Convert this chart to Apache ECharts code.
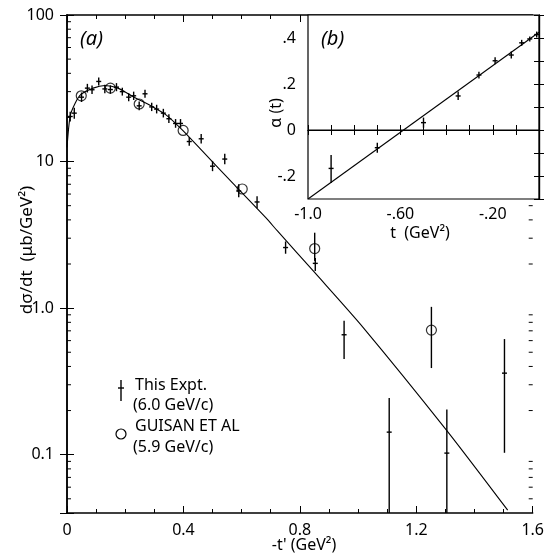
<!DOCTYPE html>
<html>
<head>
<meta charset="utf-8">
<script src="https://cdn.jsdelivr.net/npm/echarts@6/dist/echarts.min.js"></script>
<style>
  html, body { margin: 0; padding: 0; background: #fff; }
  #chart { width: 547px; height: 558px; }
</style>
</head>
<body>
<div id="chart"></div>
<script>
// --- panel (a): d sigma / dt vs -t'
const exptT  = [0.011, 0.025, 0.05, 0.07, 0.086, 0.109, 0.13, 0.149, 0.17, 0.19, 0.212, 0.229, 0.248, 0.268, 0.291, 0.308, 0.331, 0.35, 0.373, 0.39, 0.42, 0.461, 0.50, 0.542, 0.59, 0.653, 0.751, 0.853, 0.952, 1.107, 1.305, 1.503];
const exptV  = [20.3, 21.4, 27.5, 31.7, 30.9, 35.2, 31.3, 31.0, 32.2, 30.0, 27.5, 28.1, 24.0, 29.0, 23.6, 22.8, 21.4, 19.6, 18.2, 18.2, 13.7, 14.3, 9.3, 10.4, 6.3, 5.3, 2.59, 2.02, 0.658, 0.1425, 0.1025, 0.36];
const exptLo = [18.8, 19.6, 25.5, 29.6, 28.9, 33.0, 29.3, 29.0, 30.2, 28.2, 25.8, 26.3, 22.4, 27.2, 22.1, 21.3, 20.0, 18.3, 17.0, 17.0, 12.8, 13.3, 8.6, 9.6, 5.7, 4.8, 2.35, 1.79, 0.45, 0.04, 0.04, 0.103];
const exptHi = [21.9, 23.3, 29.6, 33.9, 33.0, 37.5, 33.4, 33.1, 34.3, 31.9, 29.3, 30.0, 25.7, 30.9, 25.2, 24.4, 22.9, 21.0, 19.5, 19.5, 14.7, 15.4, 10.1, 11.3, 7.0, 5.8, 2.85, 2.2, 0.82, 0.244, 0.203, 0.615];

const guisanT  = [0.049, 0.149, 0.248, 0.399, 0.602, 0.851, 1.252];
const guisanV  = [28.1, 31.7, 24.7, 16.3, 6.5, 2.55, 0.708];
const guisanLo = [28.1, 31.7, 24.7, 16.3, 6.5, 2.1, 0.39];
const guisanHi = [28.1, 31.7, 24.7, 16.3, 6.5, 3.27, 1.02];

const fitT = [0, 0.011, 0.028, 0.047, 0.09, 0.13, 0.175, 0.226, 0.282, 0.339, 0.395, 0.463, 0.576, 0.683, 0.723, 0.853, 1.017, 1.305, 1.514];
const fitV = [12.5, 20.5, 25.0, 28.6, 31.7, 33.0, 31.7, 27.8, 24.4, 20.9, 16.5, 11.9, 6.9, 4.14, 3.36, 1.73, 0.74, 0.146, 0.0418];

const logMinorTicks = [0.05, 0.06, 0.07, 0.08, 0.09, 0.2, 0.3, 0.4, 0.5, 0.6, 0.7, 0.8, 0.9, 2, 3, 4, 5, 6, 7, 8, 9, 20, 30, 40, 50, 60, 70, 80, 90];
const decadeLabels = { '2': '100', '1': '10', '0': '1.0', '-1': '0.1' };

// --- panel (b): alpha(t)
const alphaT  = [-0.90, -0.70, -0.50, -0.35, -0.26, -0.19, -0.12, -0.075, -0.04, -0.01];
const alphaV  = [-0.167, -0.077, 0.032, 0.148, 0.239, 0.301, 0.326, 0.379, 0.396, 0.415];
const alphaLo = [-0.230, -0.099, 0.010, 0.130, 0.224, 0.286, 0.311, 0.366, 0.385, 0.402];
const alphaHi = [-0.109, -0.055, 0.054, 0.167, 0.253, 0.316, 0.341, 0.392, 0.407, 0.428];
const alphaFitT = [-1.0, 0];
const alphaFitV = [-0.30, 0.425];
const zeroLineT = [-1.0, 0];
const zeroLineV = [0, 0];
const insetXLabels = { '-10': '-1.0', '-6': '-.60', '-2': '-.20' };
const insetYLabels = { '4': '.4', '2': '.2', '0': '0', '-2': '-.2' };

const FONT = 'Noto Sans';
const ink = '#000';

const zip = (...cols) => cols[0].map((_, i) => cols.map(c => c[i]));

function errorBar(withCross) {
    return function (params, api) {
        const x = api.value(0);
        const c = api.coord([x, api.value(1)]);
        const lo = api.coord([x, api.value(2)]);
        const hi = api.coord([x, api.value(3)]);
        const kids = [];
        if (Math.abs(lo[1] - hi[1]) > 0.5) {
            kids.push({ type: 'line', shape: { x1: lo[0], y1: lo[1], x2: hi[0], y2: hi[1] }, style: { stroke: ink, lineWidth: 1.4 } });
        }
        if (withCross) {
            kids.push({ type: 'line', shape: { x1: c[0] - 2.5, y1: c[1], x2: c[0] + 2.5, y2: c[1] }, style: { stroke: ink, lineWidth: 1.4 } });
        }
        return { type: 'group', children: kids };
    };
}

const chart = echarts.init(document.getElementById('chart'));

const axisText = { color: ink, fontFamily: FONT, fontSize: 16 };

const option = {
    animation: false,
    backgroundColor: '#fff',
    grid: [
        { left: 67, top: 15, width: 472, height: 498 },
        { left: 308, top: 15, width: 231, height: 184, show: true, backgroundColor: '#fff', borderColor: ink, borderWidth: 1.2, z: 10 }
    ],
    xAxis: [
        {
            gridIndex: 0, type: 'value', min: 0, max: 1.6, interval: 0.4,
            axisLine: { lineStyle: { color: ink, width: 1.5 } },
            axisTick: { inside: true, length: 7, lineStyle: { color: ink } },
            minorTick: { show: true, splitNumber: 4, length: 4, lineStyle: { color: ink } },
            splitLine: { show: false },
            axisLabel: Object.assign({ margin: 9, formatter: v => v === 0 ? '0' : v.toFixed(1) }, axisText)
        },
        {
            gridIndex: 0, type: 'value', position: 'top', min: 0, max: 1.6, interval: 0.4,
            axisLine: { lineStyle: { color: ink, width: 1.5 } },
            axisTick: { inside: true, length: 7, lineStyle: { color: ink } },
            minorTick: { show: true, splitNumber: 4, length: 4, lineStyle: { color: ink } },
            splitLine: { show: false },
            axisLabel: { show: false }
        },
        {
            gridIndex: 1, type: 'value', min: -1.0, max: 0, interval: 0.1, z: 11,
            axisLine: { lineStyle: { color: ink, width: 1.2 } },
            axisTick: { inside: true, length: 5, lineStyle: { color: ink } },
            splitLine: { show: false },
            axisLabel: Object.assign({ margin: 7, formatter: v => insetXLabels[Math.round(v * 10)] || '' }, axisText)
        },
        {
            gridIndex: 1, type: 'value', position: 'top', min: -1.0, max: 0, interval: 0.1, z: 11,
            axisLine: { lineStyle: { color: ink, width: 1.2 } },
            axisTick: { inside: true, length: 5, lineStyle: { color: ink } },
            splitLine: { show: false },
            axisLabel: { show: false }
        }
    ],
    yAxis: [
        {
            gridIndex: 0, type: 'log', logBase: 10, min: 0.04, max: 100,
            axisLine: { lineStyle: { color: ink, width: 1.5 } },
            axisTick: { inside: true, length: 7, lineStyle: { color: ink } },
            splitLine: { show: false },
            axisLabel: Object.assign({
                margin: 13,
                formatter: v => {
                    const e = Math.log10(v);
                    return Math.abs(e - Math.round(e)) < 1e-6 ? (decadeLabels[Math.round(e)] || '') : '';
                }
            }, axisText)
        },
        {
            gridIndex: 0, type: 'log', logBase: 10, min: 0.04, max: 100, position: 'right',
            axisLine: { lineStyle: { color: ink, width: 1.5 } },
            axisTick: { inside: true, length: 7, lineStyle: { color: ink } },
            splitLine: { show: false },
            axisLabel: { show: false }
        },
        {
            gridIndex: 1, type: 'value', min: -0.3, max: 0.5, interval: 0.1, z: 11,
            axisLine: { lineStyle: { color: ink, width: 1.2 } },
            axisTick: { inside: true, length: 5, lineStyle: { color: ink } },
            splitLine: { show: false },
            axisLabel: Object.assign({ margin: 12, formatter: v => insetYLabels[Math.round(v * 10)] || '' }, axisText)
        },
        {
            gridIndex: 1, type: 'value', min: -0.3, max: 0.5, interval: 0.1, position: 'right', z: 11,
            axisLine: { lineStyle: { color: ink, width: 1.2 } },
            axisTick: { inside: true, length: 5, lineStyle: { color: ink } },
            splitLine: { show: false },
            axisLabel: { show: false }
        }
    ],
    series: [
        {
            name: 'log minor ticks',
            type: 'custom', xAxisIndex: 0, yAxisIndex: 0, silent: true,
            data: logMinorTicks.map(v => [0, v]),
            renderItem: (params, api) => {
                const v = api.value(1);
                const l = api.coord([0, v]);
                const r = api.coord([1.6, v]);
                return {
                    type: 'group', children: [
                        { type: 'line', shape: { x1: l[0], y1: l[1], x2: l[0] + 4, y2: l[1] }, style: { stroke: ink, lineWidth: 1 } },
                        { type: 'line', shape: { x1: r[0], y1: r[1], x2: r[0] - 4, y2: r[1] }, style: { stroke: ink, lineWidth: 1 } }
                    ]
                };
            }
        },
        {
            name: 'Fit',
            type: 'line', xAxisIndex: 0, yAxisIndex: 0,
            data: zip(fitT, fitV),
            smooth: 0.25,
            symbol: 'none',
            lineStyle: { color: ink, width: 1.1 }
        },
        {
            name: 'This Expt.',
            type: 'custom', xAxisIndex: 0, yAxisIndex: 0,
            data: zip(exptT, exptV, exptLo, exptHi),
            renderItem: errorBar(true),
            z: 3
        },
        {
            name: 'Guisan errors',
            type: 'custom', xAxisIndex: 0, yAxisIndex: 0,
            data: zip(guisanT, guisanV, guisanLo, guisanHi),
            renderItem: errorBar(false),
            z: 3
        },
        {
            name: 'GUISAN ET AL',
            type: 'scatter', xAxisIndex: 0, yAxisIndex: 0,
            data: zip(guisanT, guisanV),
            symbol: 'circle', symbolSize: 10,
            itemStyle: { color: 'rgba(255,255,255,0)', borderColor: ink, borderWidth: 1.2 },
            z: 4
        },
        // inset
        {
            name: 'zero',
            type: 'line', xAxisIndex: 2, yAxisIndex: 2, z: 12,
            data: zip(zeroLineT, zeroLineV),
            symbol: 'none',
            lineStyle: { color: ink, width: 1 }
        },
        {
            name: 'alpha fit',
            type: 'line', xAxisIndex: 2, yAxisIndex: 2, z: 12,
            data: zip(alphaFitT, alphaFitV),
            symbol: 'none',
            lineStyle: { color: ink, width: 1.1 }
        },
        {
            name: 'alpha',
            type: 'custom', xAxisIndex: 2, yAxisIndex: 2, z: 13,
            data: zip(alphaT, alphaV, alphaLo, alphaHi),
            renderItem: errorBar(true)
        }
    ],
    graphic: [
        { type: 'text', left: 80, top: 29, style: { text: '(a)', font: 'italic 20px "Noto Sans"', fill: ink } },
        { type: 'text', left: 321, top: 29, z: 20, style: { text: '(b)', font: 'italic 20px "Noto Sans"', fill: ink } },
        // main axis names
        {
            type: 'text', x: 304, y: 545, style: { text: "-t' (GeV²)", font: '16px "Noto Sans"', fill: ink, align: 'center', verticalAlign: 'middle' }
        },
        {
            type: 'text', x: 27, y: 250, rotation: Math.PI / 2,
            style: { text: 'dσ/dt  (μb/GeV²)', font: '17px "Noto Sans"', fill: ink, align: 'center', verticalAlign: 'middle' }
        },
        // inset axis names
        {
            type: 'text', x: 420, y: 233, z: 20, style: { text: 't  (GeV²)', font: '16px "Noto Sans"', fill: ink, align: 'center', verticalAlign: 'middle' }
        },
        {
            type: 'text', x: 276, y: 113, rotation: Math.PI / 2, z: 20,
            style: { text: 'α (t)', font: '16px "Noto Sans"', fill: ink, align: 'center', verticalAlign: 'middle' }
        },
        // legend
        { type: 'line', shape: { x1: 121, y1: 380, x2: 121, y2: 401 }, style: { stroke: ink, lineWidth: 1.4 } },
        { type: 'line', shape: { x1: 118, y1: 388, x2: 124, y2: 388 }, style: { stroke: ink, lineWidth: 1.4 } },
        { type: 'circle', shape: { cx: 121, cy: 434, r: 5 }, style: { fill: '#fff', stroke: ink, lineWidth: 1.2 } },
        { type: 'text', x: 135, y: 385, style: { text: 'This Expt.', font: '16px "Noto Sans"', fill: ink, verticalAlign: 'middle' } },
        { type: 'text', x: 133, y: 405, style: { text: '(6.0 GeV/c)', font: '16px "Noto Sans"', fill: ink, verticalAlign: 'middle' } },
        { type: 'text', x: 135, y: 426, style: { text: 'GUISAN ET AL', font: '16px "Noto Sans"', fill: ink, verticalAlign: 'middle' } },
        { type: 'text', x: 133, y: 447, style: { text: '(5.9 GeV/c)', font: '16px "Noto Sans"', fill: ink, verticalAlign: 'middle' } }
    ]
};

chart.setOption(option);
</script>
</body>
</html>
